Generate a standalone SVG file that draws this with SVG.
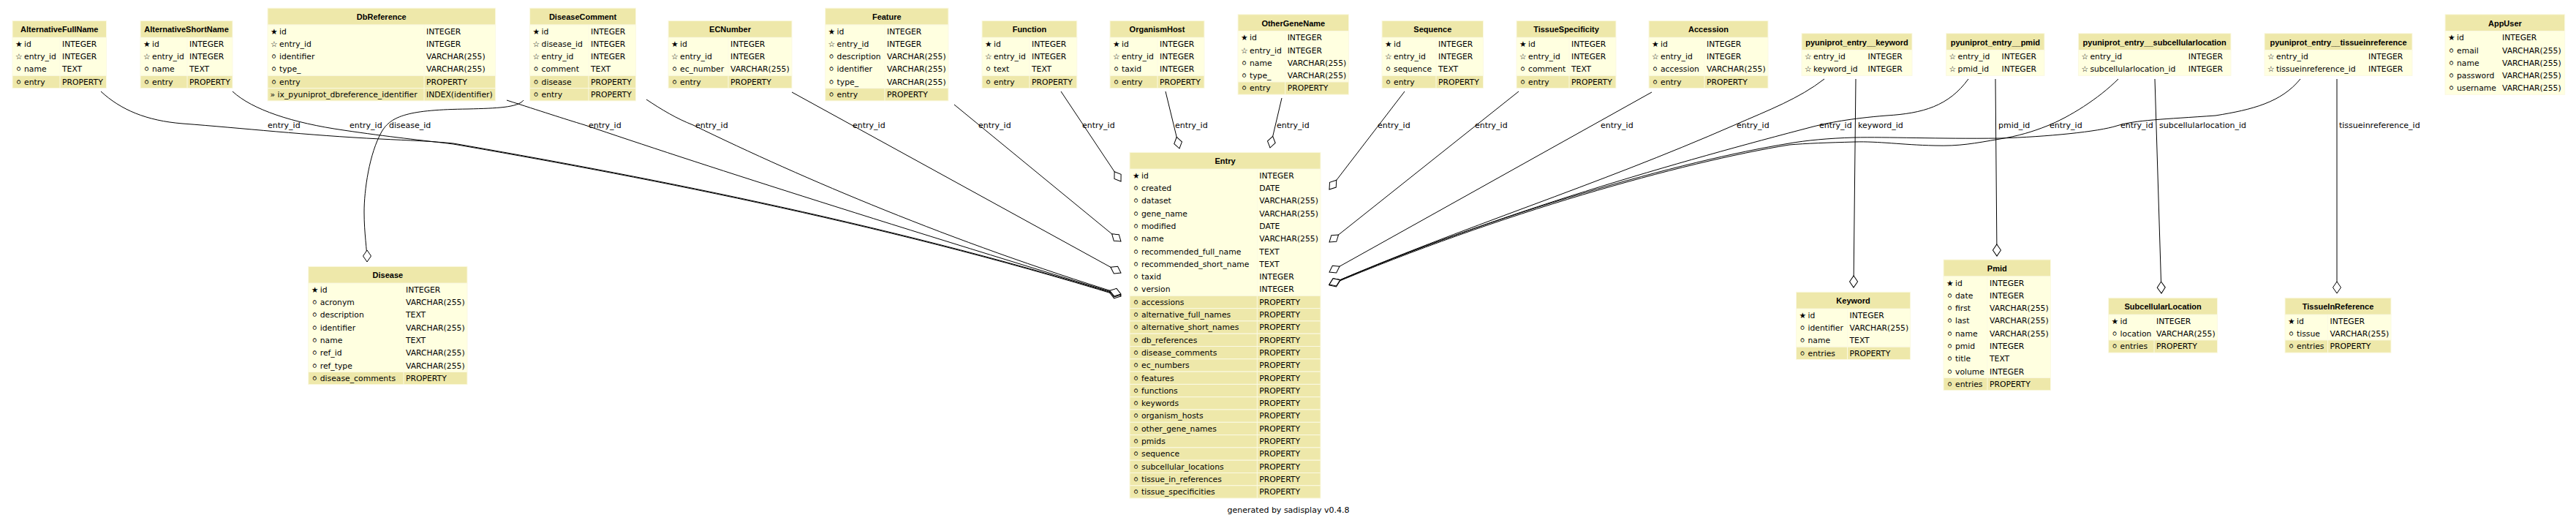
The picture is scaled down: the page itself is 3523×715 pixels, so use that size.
<svg xmlns="http://www.w3.org/2000/svg" width="3523" height="715" viewBox="0 0 3523 715">
<style>
.h,.p{fill:#EEE8AA;stroke:#FBF9E3;stroke-width:1}
.a{fill:#FFFFE0;stroke:#FBF9E3;stroke-width:1}
.dv{stroke:#FBF9E3;stroke-width:1}
.ht{font-family:"Liberation Sans",Arial,sans-serif;font-weight:bold;font-size:11px;text-anchor:middle;fill:#000}
.t{font-family:"DejaVu Sans",sans-serif;font-size:10.8px;fill:#000}
.l{font-family:"DejaVu Sans",sans-serif;font-size:11px;fill:#000}
.e{fill:none;stroke:#000;stroke-width:1;marker-end:url(#od)}
</style>
<defs>
<marker id="od" viewBox="-1 -1 18 13" markerWidth="18" markerHeight="13" refX="16" refY="5.5" orient="auto" markerUnits="userSpaceOnUse"><path d="M0,5.5 L8,0 L16,5.5 L8,11 Z" fill="#fff" stroke="#000" stroke-width="1"/></marker>
</defs>
<rect width="3523" height="715" fill="#fff"/>

<g id="connectors">
<g class="edge"><path class="e" d="M138,125 C165,150 200,165 250,169 C330,175 420,185 520,190 C560,192 590,193 620,196 C850,236 1200,301 1533,404"/><text class="l" x="366" y="175">entry_id</text></g>
<g class="edge"><path class="e" d="M318,125 C345,150 400,168 470,178 C530,187 580,192 620,197 C850,237 1200,302 1533,405"/><text class="l" x="478" y="175">entry_id</text></g>
<g class="edge"><path class="e" d="M716,137 C708,147 680,148 640,149 C560,150 535,158 522,180 C505,210 498,260 498,290 C498,320 502,340 502,358"/><text class="l" x="532" y="175">disease_id</text></g>
<g class="edge"><path class="e" d="M693,137 C740,152 770,162 800,171 C950,222 1200,302 1533,403"/><text class="l" x="805" y="175">entry_id</text></g>
<g class="edge"><path class="e" d="M884,136 C905,150 925,162 948,171 C1100,245 1300,330 1533,402"/><text class="l" x="951" y="175">entry_id</text></g>
<g class="edge"><path class="e" d="M1083,126 L1533,373"/><text class="l" x="1166" y="175">entry_id</text></g>
<g class="edge"><path class="e" d="M1305,143 L1533,330"/><text class="l" x="1338" y="175">entry_id</text></g>
<g class="edge"><path class="e" d="M1451,125 L1533,248"/><text class="l" x="1480" y="175">entry_id</text></g>
<g class="edge"><path class="e" d="M1594,125 L1613,203"/><text class="l" x="1607" y="175">entry_id</text></g>
<g class="edge"><path class="e" d="M1753,134 L1737,202"/><text class="l" x="1746" y="175">entry_id</text></g>
<g class="edge"><path class="e" d="M1921,125 L1818,259"/><text class="l" x="1884" y="175">entry_id</text></g>
<g class="edge"><path class="e" d="M2077,125 L1818,331"/><text class="l" x="2017" y="175">entry_id</text></g>
<g class="edge"><path class="e" d="M2259,126 L1818,372"/><text class="l" x="2189" y="175">entry_id</text></g>
<g class="edge"><path class="e" d="M2495,108 C2460,135 2420,150 2372,171 C2180,255 2000,310 1818,389"/><text class="l" x="2375" y="175">entry_id</text></g>
<g class="edge"><path class="e" d="M2692,108 C2665,145 2630,155 2580,158 C2530,162 2500,168 2480,173 C2300,220 2050,290 1818,389"/><text class="l" x="2488" y="175">entry_id</text></g>
<g class="edge"><path class="e" d="M2897,108 C2870,135 2830,160 2800,172 C2780,180 2760,186 2735,190 C2700,196 2680,200 2646,199 C2600,198 2570,193 2536,194 C2500,195 2470,196 2447,198 C2300,222 2050,292 1818,390"/><text class="l" x="2803" y="175">entry_id</text></g>
<g class="edge"><path class="e" d="M3146,108 C3120,140 3080,150 3030,158 C2960,163 2920,164 2895,172 C2870,180 2800,187 2735,189 C2650,190 2580,187 2536,188 C2500,189 2470,192 2447,196 C2300,220 2050,290 1818,389"/><text class="l" x="2900" y="175">entry_id</text></g>
<g class="edge"><path class="e" d="M2538,108 L2535,393"/><text class="l" x="2541" y="175">keyword_id</text></g>
<g class="edge"><path class="e" d="M2729,108 L2731,350"/><text class="l" x="2733" y="175">pmid_id</text></g>
<g class="edge"><path class="e" d="M2947,108 L2956,401"/><text class="l" x="2953" y="175">subcellularlocation_id</text></g>
<g class="edge"><path class="e" d="M3196,108 L3196,401"/><text class="l" x="3199" y="175">tissueinreference_id</text></g>
</g>

<g id="AlternativeFullName" transform="translate(17,28.4)">
<rect class="h" width="128.5" height="23"/><text class="ht" x="64.3" y="16">AlternativeFullName</text>
<rect class="a" y="23" width="128.5" height="51.9"/><rect class="p" y="74.9" width="128.5" height="17.3"/>
<line class="dv" x1="65" y1="23" x2="65" y2="92.2"/>
<text class="t" y="35.5"><tspan x="4">★ </tspan><tspan x="16">id</tspan></text><text class="t" x="68" y="35.5">INTEGER</text>
<text class="t" y="52.8"><tspan x="4">☆ </tspan><tspan x="16">entry_id</tspan></text><text class="t" x="68" y="52.8">INTEGER</text>
<text class="t" y="70.1"><tspan x="4">⚪ </tspan><tspan x="16">name</tspan></text><text class="t" x="68" y="70.1">TEXT</text>
<text class="t" y="87.4"><tspan x="4">⚪ </tspan><tspan x="16">entry</tspan></text><text class="t" x="68" y="87.4">PROPERTY</text>
</g>

<g id="AlternativeShortName" transform="translate(192,28.4)">
<rect class="h" width="126" height="23"/><text class="ht" x="63" y="16">AlternativeShortName</text>
<rect class="a" y="23" width="126" height="51.9"/><rect class="p" y="74.9" width="126" height="17.3"/>
<line class="dv" x1="64" y1="23" x2="64" y2="92.2"/>
<text class="t" y="35.5"><tspan x="4">★ </tspan><tspan x="16">id</tspan></text><text class="t" x="67" y="35.5">INTEGER</text>
<text class="t" y="52.8"><tspan x="4">☆ </tspan><tspan x="16">entry_id</tspan></text><text class="t" x="67" y="52.8">INTEGER</text>
<text class="t" y="70.1"><tspan x="4">⚪ </tspan><tspan x="16">name</tspan></text><text class="t" x="67" y="70.1">TEXT</text>
<text class="t" y="87.4"><tspan x="4">⚪ </tspan><tspan x="16">entry</tspan></text><text class="t" x="67" y="87.4">PROPERTY</text>
</g>

<g id="DbReference" transform="translate(366,11.1)">
<rect class="h" width="311.7" height="23"/><text class="ht" x="155.8" y="16">DbReference</text>
<rect class="a" y="23" width="311.7" height="69.2"/><rect class="p" y="92.2" width="311.7" height="17.3"/><rect class="p" y="109.5" width="311.7" height="17.3"/>
<line class="dv" x1="214" y1="23" x2="214" y2="126.8"/>
<text class="t" y="35.5"><tspan x="4">★ </tspan><tspan x="16">id</tspan></text><text class="t" x="217" y="35.5">INTEGER</text>
<text class="t" y="52.8"><tspan x="4">☆ </tspan><tspan x="16">entry_id</tspan></text><text class="t" x="217" y="52.8">INTEGER</text>
<text class="t" y="70.1"><tspan x="4">⚪ </tspan><tspan x="16">identifier</tspan></text><text class="t" x="217" y="70.1">VARCHAR(255)</text>
<text class="t" y="87.4"><tspan x="4">⚪ </tspan><tspan x="16">type_</tspan></text><text class="t" x="217" y="87.4">VARCHAR(255)</text>
<text class="t" y="104.7"><tspan x="4">⚪ </tspan><tspan x="16">entry</tspan></text><text class="t" x="217" y="104.7">PROPERTY</text>
<text class="t" y="122"><tspan x="3.5">» </tspan><tspan x="13.5">ix_pyuniprot_dbreference_identifier</tspan></text><text class="t" x="217" y="122">INDEX(identifier)</text>
</g>

<g id="DiseaseComment" transform="translate(724.6,11.1)">
<rect class="h" width="145" height="23"/><text class="ht" x="72.5" y="16">DiseaseComment</text>
<rect class="a" y="23" width="145" height="69.2"/><rect class="p" y="92.2" width="145" height="17.3"/><rect class="p" y="109.5" width="145" height="17.3"/>
<line class="dv" x1="80.4" y1="23" x2="80.4" y2="126.8"/>
<text class="t" y="35.5"><tspan x="4">★ </tspan><tspan x="16">id</tspan></text><text class="t" x="83.4" y="35.5">INTEGER</text>
<text class="t" y="52.8"><tspan x="4">☆ </tspan><tspan x="16">disease_id</tspan></text><text class="t" x="83.4" y="52.8">INTEGER</text>
<text class="t" y="70.1"><tspan x="4">☆ </tspan><tspan x="16">entry_id</tspan></text><text class="t" x="83.4" y="70.1">INTEGER</text>
<text class="t" y="87.4"><tspan x="4">⚪ </tspan><tspan x="16">comment</tspan></text><text class="t" x="83.4" y="87.4">TEXT</text>
<text class="t" y="104.7"><tspan x="4">⚪ </tspan><tspan x="16">disease</tspan></text><text class="t" x="83.4" y="104.7">PROPERTY</text>
<text class="t" y="122"><tspan x="4">⚪ </tspan><tspan x="16">entry</tspan></text><text class="t" x="83.4" y="122">PROPERTY</text>
</g>

<g id="ECNumber" transform="translate(914,28.4)">
<rect class="h" width="169" height="23"/><text class="ht" x="84.5" y="16">ECNumber</text>
<rect class="a" y="23" width="169" height="51.9"/><rect class="p" y="74.9" width="169" height="17.3"/>
<line class="dv" x1="82" y1="23" x2="82" y2="92.2"/>
<text class="t" y="35.5"><tspan x="4">★ </tspan><tspan x="16">id</tspan></text><text class="t" x="85" y="35.5">INTEGER</text>
<text class="t" y="52.8"><tspan x="4">☆ </tspan><tspan x="16">entry_id</tspan></text><text class="t" x="85" y="52.8">INTEGER</text>
<text class="t" y="70.1"><tspan x="4">⚪ </tspan><tspan x="16">ec_number</tspan></text><text class="t" x="85" y="70.1">VARCHAR(255)</text>
<text class="t" y="87.4"><tspan x="4">⚪ </tspan><tspan x="16">entry</tspan></text><text class="t" x="85" y="87.4">PROPERTY</text>
</g>

<g id="Feature" transform="translate(1128.6,11.1)">
<rect class="h" width="168.4" height="23"/><text class="ht" x="84.2" y="16">Feature</text>
<rect class="a" y="23" width="168.4" height="86.5"/><rect class="p" y="109.5" width="168.4" height="17.3"/>
<line class="dv" x1="81.4" y1="23" x2="81.4" y2="126.8"/>
<text class="t" y="35.5"><tspan x="4">★ </tspan><tspan x="16">id</tspan></text><text class="t" x="84.4" y="35.5">INTEGER</text>
<text class="t" y="52.8"><tspan x="4">☆ </tspan><tspan x="16">entry_id</tspan></text><text class="t" x="84.4" y="52.8">INTEGER</text>
<text class="t" y="70.1"><tspan x="4">⚪ </tspan><tspan x="16">description</tspan></text><text class="t" x="84.4" y="70.1">VARCHAR(255)</text>
<text class="t" y="87.4"><tspan x="4">⚪ </tspan><tspan x="16">identifier</tspan></text><text class="t" x="84.4" y="87.4">VARCHAR(255)</text>
<text class="t" y="104.7"><tspan x="4">⚪ </tspan><tspan x="16">type_</tspan></text><text class="t" x="84.4" y="104.7">VARCHAR(255)</text>
<text class="t" y="122"><tspan x="4">⚪ </tspan><tspan x="16">entry</tspan></text><text class="t" x="84.4" y="122">PROPERTY</text>
</g>

<g id="Function" transform="translate(1343,28.4)">
<rect class="h" width="129.8" height="23"/><text class="ht" x="64.9" y="16">Function</text>
<rect class="a" y="23" width="129.8" height="51.9"/><rect class="p" y="74.9" width="129.8" height="17.3"/>
<line class="dv" x1="65" y1="23" x2="65" y2="92.2"/>
<text class="t" y="35.5"><tspan x="4">★ </tspan><tspan x="16">id</tspan></text><text class="t" x="68" y="35.5">INTEGER</text>
<text class="t" y="52.8"><tspan x="4">☆ </tspan><tspan x="16">entry_id</tspan></text><text class="t" x="68" y="52.8">INTEGER</text>
<text class="t" y="70.1"><tspan x="4">⚪ </tspan><tspan x="16">text</tspan></text><text class="t" x="68" y="70.1">TEXT</text>
<text class="t" y="87.4"><tspan x="4">⚪ </tspan><tspan x="16">entry</tspan></text><text class="t" x="68" y="87.4">PROPERTY</text>
</g>

<g id="OrganismHost" transform="translate(1518,28.4)">
<rect class="h" width="129" height="23"/><text class="ht" x="64.5" y="16">OrganismHost</text>
<rect class="a" y="23" width="129" height="51.9"/><rect class="p" y="74.9" width="129" height="17.3"/>
<line class="dv" x1="65" y1="23" x2="65" y2="92.2"/>
<text class="t" y="35.5"><tspan x="4">★ </tspan><tspan x="16">id</tspan></text><text class="t" x="68" y="35.5">INTEGER</text>
<text class="t" y="52.8"><tspan x="4">☆ </tspan><tspan x="16">entry_id</tspan></text><text class="t" x="68" y="52.8">INTEGER</text>
<text class="t" y="70.1"><tspan x="4">⚪ </tspan><tspan x="16">taxid</tspan></text><text class="t" x="68" y="70.1">INTEGER</text>
<text class="t" y="87.4"><tspan x="4">⚪ </tspan><tspan x="16">entry</tspan></text><text class="t" x="68" y="87.4">PROPERTY</text>
</g>

<g id="OtherGeneName" transform="translate(1693,19.75)">
<rect class="h" width="151.6" height="23"/><text class="ht" x="75.8" y="16">OtherGeneName</text>
<rect class="a" y="23" width="151.6" height="69.2"/><rect class="p" y="92.2" width="151.6" height="17.3"/>
<line class="dv" x1="64.7" y1="23" x2="64.7" y2="109.5"/>
<text class="t" y="35.5"><tspan x="4">★ </tspan><tspan x="16">id</tspan></text><text class="t" x="67.7" y="35.5">INTEGER</text>
<text class="t" y="52.8"><tspan x="4">☆ </tspan><tspan x="16">entry_id</tspan></text><text class="t" x="67.7" y="52.8">INTEGER</text>
<text class="t" y="70.1"><tspan x="4">⚪ </tspan><tspan x="16">name</tspan></text><text class="t" x="67.7" y="70.1">VARCHAR(255)</text>
<text class="t" y="87.4"><tspan x="4">⚪ </tspan><tspan x="16">type_</tspan></text><text class="t" x="67.7" y="87.4">VARCHAR(255)</text>
<text class="t" y="104.7"><tspan x="4">⚪ </tspan><tspan x="16">entry</tspan></text><text class="t" x="67.7" y="104.7">PROPERTY</text>
</g>

<g id="Sequence" transform="translate(1890,28.4)">
<rect class="h" width="138.6" height="23"/><text class="ht" x="69.3" y="16">Sequence</text>
<rect class="a" y="23" width="138.6" height="51.9"/><rect class="p" y="74.9" width="138.6" height="17.3"/>
<line class="dv" x1="74" y1="23" x2="74" y2="92.2"/>
<text class="t" y="35.5"><tspan x="4">★ </tspan><tspan x="16">id</tspan></text><text class="t" x="77" y="35.5">INTEGER</text>
<text class="t" y="52.8"><tspan x="4">☆ </tspan><tspan x="16">entry_id</tspan></text><text class="t" x="77" y="52.8">INTEGER</text>
<text class="t" y="70.1"><tspan x="4">⚪ </tspan><tspan x="16">sequence</tspan></text><text class="t" x="77" y="70.1">TEXT</text>
<text class="t" y="87.4"><tspan x="4">⚪ </tspan><tspan x="16">entry</tspan></text><text class="t" x="77" y="87.4">PROPERTY</text>
</g>

<g id="TissueSpecificity" transform="translate(2074,28.4)">
<rect class="h" width="136" height="23"/><text class="ht" x="68" y="16">TissueSpecificity</text>
<rect class="a" y="23" width="136" height="51.9"/><rect class="p" y="74.9" width="136" height="17.3"/>
<line class="dv" x1="72" y1="23" x2="72" y2="92.2"/>
<text class="t" y="35.5"><tspan x="4">★ </tspan><tspan x="16">id</tspan></text><text class="t" x="75" y="35.5">INTEGER</text>
<text class="t" y="52.8"><tspan x="4">☆ </tspan><tspan x="16">entry_id</tspan></text><text class="t" x="75" y="52.8">INTEGER</text>
<text class="t" y="70.1"><tspan x="4">⚪ </tspan><tspan x="16">comment</tspan></text><text class="t" x="75" y="70.1">TEXT</text>
<text class="t" y="87.4"><tspan x="4">⚪ </tspan><tspan x="16">entry</tspan></text><text class="t" x="75" y="87.4">PROPERTY</text>
</g>

<g id="Accession" transform="translate(2255,28.4)">
<rect class="h" width="163" height="23"/><text class="ht" x="81.5" y="16">Accession</text>
<rect class="a" y="23" width="163" height="51.9"/><rect class="p" y="74.9" width="163" height="17.3"/>
<line class="dv" x1="76" y1="23" x2="76" y2="92.2"/>
<text class="t" y="35.5"><tspan x="4">★ </tspan><tspan x="16">id</tspan></text><text class="t" x="79" y="35.5">INTEGER</text>
<text class="t" y="52.8"><tspan x="4">☆ </tspan><tspan x="16">entry_id</tspan></text><text class="t" x="79" y="52.8">INTEGER</text>
<text class="t" y="70.1"><tspan x="4">⚪ </tspan><tspan x="16">accession</tspan></text><text class="t" x="79" y="70.1">VARCHAR(255)</text>
<text class="t" y="87.4"><tspan x="4">⚪ </tspan><tspan x="16">entry</tspan></text><text class="t" x="79" y="87.4">PROPERTY</text>
</g>

<g id="pyuniprot_entry__keyword" transform="translate(2464,45.7)">
<rect class="h" width="151" height="23"/><text class="ht" x="75.5" y="16">pyuniprot_entry__keyword</text>
<rect class="a" y="23" width="151" height="34.6"/>
<text class="t" y="35.5"><tspan x="4">☆ </tspan><tspan x="16">entry_id</tspan></text><text class="t" x="90.5" y="35.5">INTEGER</text>
<text class="t" y="52.8"><tspan x="4">☆ </tspan><tspan x="16">keyword_id</tspan></text><text class="t" x="90.5" y="52.8">INTEGER</text>
</g>

<g id="pyuniprot_entry__pmid" transform="translate(2661.6,45.7)">
<rect class="h" width="134.4" height="23"/><text class="ht" x="67.2" y="16">pyuniprot_entry__pmid</text>
<rect class="a" y="23" width="134.4" height="34.6"/>
<text class="t" y="35.5"><tspan x="4">☆ </tspan><tspan x="16">entry_id</tspan></text><text class="t" x="76" y="35.5">INTEGER</text>
<text class="t" y="52.8"><tspan x="4">☆ </tspan><tspan x="16">pmid_id</tspan></text><text class="t" x="76" y="52.8">INTEGER</text>
</g>

<g id="pyuniprot_entry__subcellularlocation" transform="translate(2842.4,45.7)">
<rect class="h" width="208.6" height="23"/><text class="ht" x="104.3" y="16">pyuniprot_entry__subcellularlocation</text>
<rect class="a" y="23" width="208.6" height="34.6"/>
<text class="t" y="35.5"><tspan x="4">☆ </tspan><tspan x="16">entry_id</tspan></text><text class="t" x="150.3" y="35.5">INTEGER</text>
<text class="t" y="52.8"><tspan x="4">☆ </tspan><tspan x="16">subcellularlocation_id</tspan></text><text class="t" x="150.3" y="52.8">INTEGER</text>
</g>

<g id="pyuniprot_entry__tissueinreference" transform="translate(3097,45.7)">
<rect class="h" width="202" height="23"/><text class="ht" x="101" y="16">pyuniprot_entry__tissueinreference</text>
<rect class="a" y="23" width="202" height="34.6"/>
<text class="t" y="35.5"><tspan x="4">☆ </tspan><tspan x="16">entry_id</tspan></text><text class="t" x="142" y="35.5">INTEGER</text>
<text class="t" y="52.8"><tspan x="4">☆ </tspan><tspan x="16">tissueinreference_id</tspan></text><text class="t" x="142" y="52.8">INTEGER</text>
</g>

<g id="AppUser" transform="translate(3344,19.75)">
<rect class="h" width="163.7" height="23"/><text class="ht" x="81.9" y="16">AppUser</text>
<rect class="a" y="23" width="163.7" height="86.5"/>
<text class="t" y="35.5"><tspan x="4">★ </tspan><tspan x="16">id</tspan></text><text class="t" x="78" y="35.5">INTEGER</text>
<text class="t" y="52.8"><tspan x="4">⚪ </tspan><tspan x="16">email</tspan></text><text class="t" x="78" y="52.8">VARCHAR(255)</text>
<text class="t" y="70.1"><tspan x="4">⚪ </tspan><tspan x="16">name</tspan></text><text class="t" x="78" y="70.1">VARCHAR(255)</text>
<text class="t" y="87.4"><tspan x="4">⚪ </tspan><tspan x="16">password</tspan></text><text class="t" x="78" y="87.4">VARCHAR(255)</text>
<text class="t" y="104.7"><tspan x="4">⚪ </tspan><tspan x="16">username</tspan></text><text class="t" x="78" y="104.7">VARCHAR(255)</text>
</g>

<g id="Entry" transform="translate(1545,208.3)">
<rect class="h" width="261" height="23"/><text class="ht" x="130.5" y="16">Entry</text>
<rect class="a" y="23" width="261" height="173"/>
<rect class="p" y="196" width="261" height="17.3"/><rect class="p" y="213.3" width="261" height="17.3"/><rect class="p" y="230.6" width="261" height="17.3"/><rect class="p" y="247.9" width="261" height="17.3"/>
<rect class="p" y="265.2" width="261" height="17.3"/><rect class="p" y="282.5" width="261" height="17.3"/><rect class="p" y="299.8" width="261" height="17.3"/><rect class="p" y="317.1" width="261" height="17.3"/>
<rect class="p" y="334.4" width="261" height="17.3"/><rect class="p" y="351.7" width="261" height="17.3"/><rect class="p" y="369" width="261" height="17.3"/><rect class="p" y="386.3" width="261" height="17.3"/>
<rect class="p" y="403.6" width="261" height="17.3"/><rect class="p" y="420.9" width="261" height="17.3"/><rect class="p" y="438.2" width="261" height="17.3"/><rect class="p" y="455.5" width="261" height="17.3"/>
<line class="dv" x1="174.3" y1="23" x2="174.3" y2="472.8"/>
<text class="t" y="35.5"><tspan x="4">★ </tspan><tspan x="16">id</tspan></text><text class="t" x="177.3" y="35.5">INTEGER</text>
<text class="t" y="52.8"><tspan x="4">⚪ </tspan><tspan x="16">created</tspan></text><text class="t" x="177.3" y="52.8">DATE</text>
<text class="t" y="70.1"><tspan x="4">⚪ </tspan><tspan x="16">dataset</tspan></text><text class="t" x="177.3" y="70.1">VARCHAR(255)</text>
<text class="t" y="87.4"><tspan x="4">⚪ </tspan><tspan x="16">gene_name</tspan></text><text class="t" x="177.3" y="87.4">VARCHAR(255)</text>
<text class="t" y="104.7"><tspan x="4">⚪ </tspan><tspan x="16">modified</tspan></text><text class="t" x="177.3" y="104.7">DATE</text>
<text class="t" y="122"><tspan x="4">⚪ </tspan><tspan x="16">name</tspan></text><text class="t" x="177.3" y="122">VARCHAR(255)</text>
<text class="t" y="139.3"><tspan x="4">⚪ </tspan><tspan x="16">recommended_full_name</tspan></text><text class="t" x="177.3" y="139.3">TEXT</text>
<text class="t" y="156.6"><tspan x="4">⚪ </tspan><tspan x="16">recommended_short_name</tspan></text><text class="t" x="177.3" y="156.6">TEXT</text>
<text class="t" y="173.9"><tspan x="4">⚪ </tspan><tspan x="16">taxid</tspan></text><text class="t" x="177.3" y="173.9">INTEGER</text>
<text class="t" y="191.2"><tspan x="4">⚪ </tspan><tspan x="16">version</tspan></text><text class="t" x="177.3" y="191.2">INTEGER</text>
<text class="t" y="208.5"><tspan x="4">⚪ </tspan><tspan x="16">accessions</tspan></text><text class="t" x="177.3" y="208.5">PROPERTY</text>
<text class="t" y="225.8"><tspan x="4">⚪ </tspan><tspan x="16">alternative_full_names</tspan></text><text class="t" x="177.3" y="225.8">PROPERTY</text>
<text class="t" y="243.1"><tspan x="4">⚪ </tspan><tspan x="16">alternative_short_names</tspan></text><text class="t" x="177.3" y="243.1">PROPERTY</text>
<text class="t" y="260.4"><tspan x="4">⚪ </tspan><tspan x="16">db_references</tspan></text><text class="t" x="177.3" y="260.4">PROPERTY</text>
<text class="t" y="277.7"><tspan x="4">⚪ </tspan><tspan x="16">disease_comments</tspan></text><text class="t" x="177.3" y="277.7">PROPERTY</text>
<text class="t" y="295"><tspan x="4">⚪ </tspan><tspan x="16">ec_numbers</tspan></text><text class="t" x="177.3" y="295">PROPERTY</text>
<text class="t" y="312.3"><tspan x="4">⚪ </tspan><tspan x="16">features</tspan></text><text class="t" x="177.3" y="312.3">PROPERTY</text>
<text class="t" y="329.6"><tspan x="4">⚪ </tspan><tspan x="16">functions</tspan></text><text class="t" x="177.3" y="329.6">PROPERTY</text>
<text class="t" y="346.9"><tspan x="4">⚪ </tspan><tspan x="16">keywords</tspan></text><text class="t" x="177.3" y="346.9">PROPERTY</text>
<text class="t" y="364.2"><tspan x="4">⚪ </tspan><tspan x="16">organism_hosts</tspan></text><text class="t" x="177.3" y="364.2">PROPERTY</text>
<text class="t" y="381.5"><tspan x="4">⚪ </tspan><tspan x="16">other_gene_names</tspan></text><text class="t" x="177.3" y="381.5">PROPERTY</text>
<text class="t" y="398.8"><tspan x="4">⚪ </tspan><tspan x="16">pmids</tspan></text><text class="t" x="177.3" y="398.8">PROPERTY</text>
<text class="t" y="416.1"><tspan x="4">⚪ </tspan><tspan x="16">sequence</tspan></text><text class="t" x="177.3" y="416.1">PROPERTY</text>
<text class="t" y="433.4"><tspan x="4">⚪ </tspan><tspan x="16">subcellular_locations</tspan></text><text class="t" x="177.3" y="433.4">PROPERTY</text>
<text class="t" y="450.7"><tspan x="4">⚪ </tspan><tspan x="16">tissue_in_references</tspan></text><text class="t" x="177.3" y="450.7">PROPERTY</text>
<text class="t" y="468"><tspan x="4">⚪ </tspan><tspan x="16">tissue_specificities</tspan></text><text class="t" x="177.3" y="468">PROPERTY</text>
</g>

<g id="Disease" transform="translate(421.7,364.3)">
<rect class="h" width="217.3" height="23"/><text class="ht" x="108.7" y="16">Disease</text>
<rect class="a" y="23" width="217.3" height="121.1"/><rect class="p" y="144.1" width="217.3" height="17.3"/>
<line class="dv" x1="130.3" y1="23" x2="130.3" y2="161.4"/>
<text class="t" y="35.5"><tspan x="4">★ </tspan><tspan x="16">id</tspan></text><text class="t" x="133.3" y="35.5">INTEGER</text>
<text class="t" y="52.8"><tspan x="4">⚪ </tspan><tspan x="16">acronym</tspan></text><text class="t" x="133.3" y="52.8">VARCHAR(255)</text>
<text class="t" y="70.1"><tspan x="4">⚪ </tspan><tspan x="16">description</tspan></text><text class="t" x="133.3" y="70.1">TEXT</text>
<text class="t" y="87.4"><tspan x="4">⚪ </tspan><tspan x="16">identifier</tspan></text><text class="t" x="133.3" y="87.4">VARCHAR(255)</text>
<text class="t" y="104.7"><tspan x="4">⚪ </tspan><tspan x="16">name</tspan></text><text class="t" x="133.3" y="104.7">TEXT</text>
<text class="t" y="122"><tspan x="4">⚪ </tspan><tspan x="16">ref_id</tspan></text><text class="t" x="133.3" y="122">VARCHAR(255)</text>
<text class="t" y="139.3"><tspan x="4">⚪ </tspan><tspan x="16">ref_type</tspan></text><text class="t" x="133.3" y="139.3">VARCHAR(255)</text>
<text class="t" y="156.6"><tspan x="4">⚪ </tspan><tspan x="16">disease_comments</tspan></text><text class="t" x="133.3" y="156.6">PROPERTY</text>
</g>

<g id="Keyword" transform="translate(2456.5,399.3)">
<rect class="h" width="156.2" height="23"/><text class="ht" x="78.1" y="16">Keyword</text>
<rect class="a" y="23" width="156.2" height="51.9"/><rect class="p" y="74.9" width="156.2" height="17.3"/>
<line class="dv" x1="70" y1="23" x2="70" y2="92.2"/>
<text class="t" y="35.5"><tspan x="4">★ </tspan><tspan x="16">id</tspan></text><text class="t" x="73" y="35.5">INTEGER</text>
<text class="t" y="52.8"><tspan x="4">⚪ </tspan><tspan x="16">identifier</tspan></text><text class="t" x="73" y="52.8">VARCHAR(255)</text>
<text class="t" y="70.1"><tspan x="4">⚪ </tspan><tspan x="16">name</tspan></text><text class="t" x="73" y="70.1">TEXT</text>
<text class="t" y="87.4"><tspan x="4">⚪ </tspan><tspan x="16">entries</tspan></text><text class="t" x="73" y="87.4">PROPERTY</text>
</g>

<g id="Pmid" transform="translate(2658,355)">
<rect class="h" width="146.5" height="23"/><text class="ht" x="73.3" y="16">Pmid</text>
<rect class="a" y="23" width="146.5" height="138.4"/><rect class="p" y="161.4" width="146.5" height="17.3"/>
<line class="dv" x1="60" y1="23" x2="60" y2="178.7"/>
<text class="t" y="35.5"><tspan x="4">★ </tspan><tspan x="16">id</tspan></text><text class="t" x="63" y="35.5">INTEGER</text>
<text class="t" y="52.8"><tspan x="4">⚪ </tspan><tspan x="16">date</tspan></text><text class="t" x="63" y="52.8">INTEGER</text>
<text class="t" y="70.1"><tspan x="4">⚪ </tspan><tspan x="16">first</tspan></text><text class="t" x="63" y="70.1">VARCHAR(255)</text>
<text class="t" y="87.4"><tspan x="4">⚪ </tspan><tspan x="16">last</tspan></text><text class="t" x="63" y="87.4">VARCHAR(255)</text>
<text class="t" y="104.7"><tspan x="4">⚪ </tspan><tspan x="16">name</tspan></text><text class="t" x="63" y="104.7">VARCHAR(255)</text>
<text class="t" y="122"><tspan x="4">⚪ </tspan><tspan x="16">pmid</tspan></text><text class="t" x="63" y="122">INTEGER</text>
<text class="t" y="139.3"><tspan x="4">⚪ </tspan><tspan x="16">title</tspan></text><text class="t" x="63" y="139.3">TEXT</text>
<text class="t" y="156.6"><tspan x="4">⚪ </tspan><tspan x="16">volume</tspan></text><text class="t" x="63" y="156.6">INTEGER</text>
<text class="t" y="173.9"><tspan x="4">⚪ </tspan><tspan x="16">entries</tspan></text><text class="t" x="63" y="173.9">PROPERTY</text>
</g>

<g id="SubcellularLocation" transform="translate(2883.6,407.3)">
<rect class="h" width="149" height="23"/><text class="ht" x="74.5" y="16">SubcellularLocation</text>
<rect class="a" y="23" width="149" height="34.6"/><rect class="p" y="57.6" width="149" height="17.3"/>
<line class="dv" x1="62.4" y1="23" x2="62.4" y2="74.9"/>
<text class="t" y="35.5"><tspan x="4">★ </tspan><tspan x="16">id</tspan></text><text class="t" x="65.4" y="35.5">INTEGER</text>
<text class="t" y="52.8"><tspan x="4">⚪ </tspan><tspan x="16">location</tspan></text><text class="t" x="65.4" y="52.8">VARCHAR(255)</text>
<text class="t" y="70.1"><tspan x="4">⚪ </tspan><tspan x="16">entries</tspan></text><text class="t" x="65.4" y="70.1">PROPERTY</text>
</g>

<g id="TissueInReference" transform="translate(3125,407.3)">
<rect class="h" width="145" height="23"/><text class="ht" x="72.5" y="16">TissueInReference</text>
<rect class="a" y="23" width="145" height="34.6"/><rect class="p" y="57.6" width="145" height="17.3"/>
<line class="dv" x1="58.6" y1="23" x2="58.6" y2="74.9"/>
<text class="t" y="35.5"><tspan x="4">★ </tspan><tspan x="16">id</tspan></text><text class="t" x="61.6" y="35.5">INTEGER</text>
<text class="t" y="52.8"><tspan x="4">⚪ </tspan><tspan x="16">tissue</tspan></text><text class="t" x="61.6" y="52.8">VARCHAR(255)</text>
<text class="t" y="70.1"><tspan x="4">⚪ </tspan><tspan x="16">entries</tspan></text><text class="t" x="61.6" y="70.1">PROPERTY</text>
</g>

<text class="l" x="1762" y="701" text-anchor="middle">generated by sadisplay v0.4.8</text>
</svg>
